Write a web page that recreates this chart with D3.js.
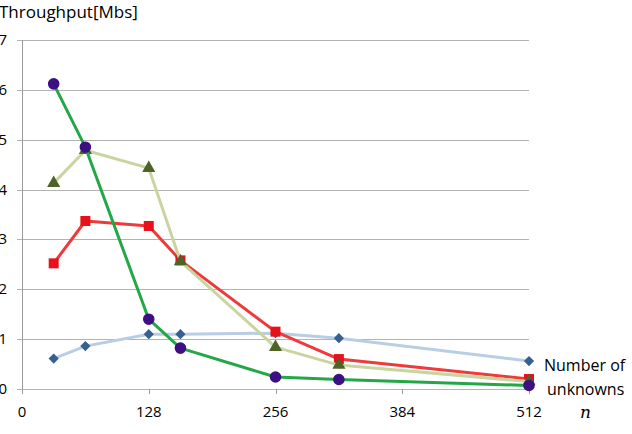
<!DOCTYPE html>
<html>
<head>
<meta charset="utf-8">
<script src="https://cdn.jsdelivr.net/npm/d3@7"></script>
<style>
  body { margin: 0; background: #fff; }
  svg { display: block; font-family: "Open Sans", "Noto Sans", sans-serif; }
</style>
</head>
<body>
<svg id="chart" width="632" height="434"></svg>
<script>
const xValues = [32, 64, 128, 160, 256, 320, 512];
const xTicks = [0, 128, 256, 384, 512];
const yTicks = [0, 1, 2, 3, 4, 5, 6, 7];

// drawn in this order, last one on top
const blueSeries = [0.61, 0.86, 1.10, 1.10, 1.12, 1.02, 0.56];
const redSeries = [2.52, 3.37, 3.27, 2.58, 1.15, 0.60, 0.20];
const oliveSeries = [4.13, 4.79, 4.43, 2.56, 0.84, 0.48, 0.15];
const greenSeries = [6.12, 4.85, 1.40, 0.82, 0.24, 0.19, 0.07];

const series = [
  { values: blueSeries, line: "#b9cde5", fill: "#376092", shape: "diamond" },
  { values: redSeries, line: "#ee3a3a", fill: "#e8101a", shape: "square" },
  { values: oliveSeries, line: "#c8d59f", fill: "#4f6228", shape: "triangle" },
  { values: greenSeries, line: "#22a847", fill: "#3c0f82", shape: "circle" }
];

const svg = d3.select("#chart");
const margin = { top: 40, right: 103, bottom: 45, left: 22 };
const width = 632, height = 434;

const x = d3.scaleLinear().domain([0, 512]).range([margin.left, width - margin.right]);
const y = d3.scaleLinear().domain([0, 7]).range([height - margin.bottom, margin.top]);

// gridlines + left ticks
svg.append("g")
  .selectAll("line")
  .data(yTicks)
  .join("line")
  .attr("x1", x(0) - 5)
  .attr("x2", x(512))
  .attr("y1", d => Math.round(y(d)) + 0.5)
  .attr("y2", d => Math.round(y(d)) + 0.5)
  .attr("stroke", "#b3b3b3")
  .attr("stroke-width", 1);

// vertical axis line
svg.append("line")
  .attr("x1", Math.round(x(0)) + 0.5)
  .attr("x2", Math.round(x(0)) + 0.5)
  .attr("y1", y(7))
  .attr("y2", y(0) + 5)
  .attr("stroke", "#9a9a9a");

// x ticks
svg.append("g")
  .selectAll("line")
  .data(xTicks)
  .join("line")
  .attr("x1", d => Math.round(x(d)) + 0.5)
  .attr("x2", d => Math.round(x(d)) + 0.5)
  .attr("y1", y(0))
  .attr("y2", y(0) + 5)
  .attr("stroke", "#9a9a9a");

svg.append("g")
  .selectAll("text")
  .data(xTicks)
  .join("text")
  .attr("x", d => x(d))
  .attr("y", 417)
  .attr("text-anchor", "middle")
  .attr("font-size", "15px")
  .attr("fill", "#000")
  .text(d => d);

svg.append("g")
  .selectAll("text")
  .data(yTicks)
  .join("text")
  .attr("x", 7)
  .attr("y", d => y(d) + 5)
  .attr("text-anchor", "end")
  .attr("font-size", "15px")
  .attr("fill", "#000")
  .text(d => d);

svg.append("text")
  .attr("x", -1)
  .attr("y", 18)
  .attr("font-size", "17px")
  .text("Throughput[Mbs]");

svg.append("text")
  .attr("x", 544)
  .attr("y", 371)
  .attr("font-size", "16px")
  .text("Number of");

svg.append("text")
  .attr("x", 547)
  .attr("y", 395)
  .attr("font-size", "16px")
  .text("unknowns");

svg.append("text")
  .attr("x", 580)
  .attr("y", 418)
  .attr("font-size", "17px")
  .attr("font-style", "italic")
  .attr("font-family", "'DejaVu Serif', 'Liberation Serif', serif")
  .text("n");

const line = d3.line()
  .x((d, i) => x(xValues[i]))
  .y(d => y(d));

const symbols = {
  diamond: d3.symbol().type(d3.symbolSquare).size(52),
  square: d3.symbol().type(d3.symbolSquare).size(100),
  triangle: d3.symbol().type(d3.symbolTriangle).size(75),
  circle: d3.symbol().type(d3.symbolCircle).size(105)
};

series.forEach(s => {
  const g = svg.append("g");
  g.append("path")
    .datum(s.values)
    .attr("d", line)
    .attr("fill", "none")
    .attr("stroke", s.line)
    .attr("stroke-width", 3)
    .attr("stroke-linejoin", "round");

  g.selectAll("path.mark")
    .data(s.values)
    .join("path")
    .attr("class", "mark")
    .attr("transform", (d, i) => `translate(${x(xValues[i])},${y(d)})` + (s.shape === "diamond" ? " rotate(45)" : ""))
    .attr("d", symbols[s.shape])
    .attr("fill", s.fill);
});
</script>
</body>
</html>
